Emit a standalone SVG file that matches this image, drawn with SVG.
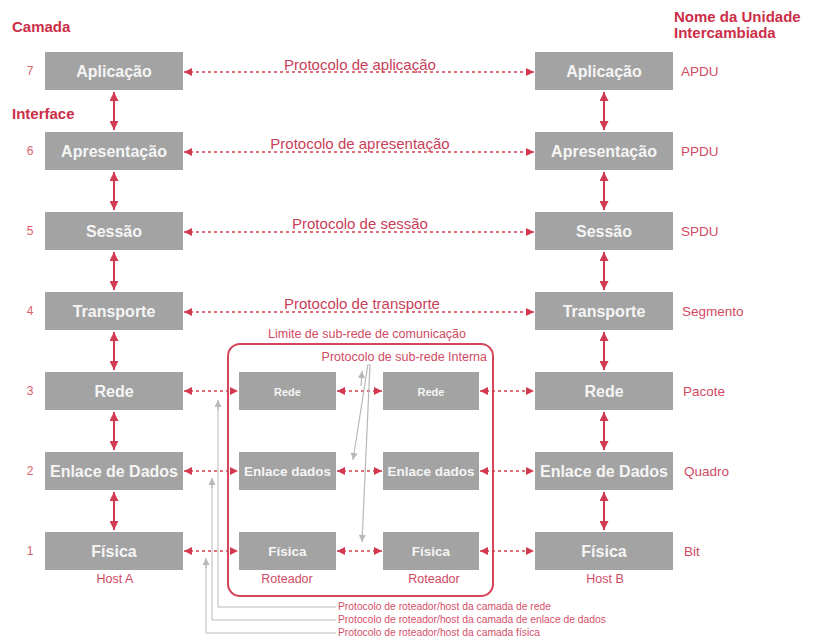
<svg xmlns="http://www.w3.org/2000/svg" width="813" height="640" viewBox="0 0 813 640">
<style>
text{font-family:"Liberation Sans",Arial,sans-serif}
.box{fill:#a3a3a3}
.bl{fill:#f5f5f5;font-weight:bold;font-size:16px;text-anchor:middle}
.bs{fill:#f5f5f5;font-weight:bold;font-size:13.5px;text-anchor:middle}
.hd{fill:#cc2e48;font-weight:bold;font-size:15px}
.num{fill:#d9606f;font-size:12px;text-anchor:middle}
.unit{fill:#d04a63;font-size:13.5px}
.proto{fill:#c9405a;font-size:15px;text-anchor:middle}
.small{fill:#d04a63;font-size:12.5px}
.tiny{fill:#d4506a;font-size:10.3px}
.vs{stroke:#d23a52;stroke-width:2;fill:none;marker-start:url(#ah);marker-end:url(#ah)}
.dot{stroke:#d8404f;stroke-width:1.5;stroke-dasharray:3 3;fill:none;marker-start:url(#ahs);marker-end:url(#ahs)}
.gr{stroke:#b8b8b8;stroke-width:1;fill:none}
.gra{stroke:#b8b8b8;stroke-width:1.2;fill:none;marker-end:url(#ag)}
</style>
<defs>
<marker id="ah" viewBox="0 0 10 10" refX="10" refY="5" markerWidth="9" markerHeight="9" markerUnits="userSpaceOnUse" orient="auto-start-reverse"><path d="M0,0 L10,5 L0,10 z" fill="#d23a52"/></marker>
<marker id="ahs" viewBox="0 0 10 10" refX="10" refY="5" markerWidth="10" markerHeight="8" markerUnits="userSpaceOnUse" orient="auto-start-reverse"><path d="M0,0 L10,5 L0,10 z" fill="#d23a52"/></marker>
<marker id="ag" viewBox="0 0 10 10" refX="10" refY="5" markerWidth="9" markerHeight="7" markerUnits="userSpaceOnUse" orient="auto"><path d="M0,0 L10,5 L0,10 z" fill="#b8b8b8"/></marker>
</defs>
<rect width="813" height="640" fill="#ffffff"/>

<g id="headers">
<text class="hd" x="12" y="32">Camada</text>
<text class="hd" x="12" y="119">Interface</text>
<text class="hd" x="674" y="22">Nome da Unidade</text>
<text class="hd" x="674" y="38">Intercambiada</text>
</g>

<g id="layer-numbers">
<text class="num" x="30" y="75">7</text>
<text class="num" x="30" y="155">6</text>
<text class="num" x="30" y="235">5</text>
<text class="num" x="30" y="315">4</text>
<text class="num" x="30" y="395">3</text>
<text class="num" x="30" y="475">2</text>
<text class="num" x="30" y="555">1</text>
</g>

<g id="units">
<text class="unit" x="681" y="76">APDU</text>
<text class="unit" x="681" y="156">PPDU</text>
<text class="unit" x="681" y="236">SPDU</text>
<text class="unit" x="682" y="316">Segmento</text>
<text class="unit" x="683" y="396">Pacote</text>
<text class="unit" x="684" y="476">Quadro</text>
<text class="unit" x="684" y="556">Bit</text>
</g>

<g id="subnet">
<rect x="228" y="344" width="265" height="252" rx="12" fill="none" stroke="#d6455b" stroke-width="2"/>
<text class="small" x="367" y="338" text-anchor="middle">Limite de sub-rede de comunicação</text>
<text class="small" x="487" y="361" text-anchor="end">Protocolo de sub-rede Interna</text>
</g>

<g id="hostA-7"><rect class="box" x="45" y="52" width="138" height="38"/><text class="bl" x="114" y="77">Aplicação</text></g>
<g id="hostA-6"><rect class="box" x="45" y="132" width="138" height="38"/><text class="bl" x="114" y="157">Apresentação</text></g>
<g id="hostA-5"><rect class="box" x="45" y="212" width="138" height="38"/><text class="bl" x="114" y="237">Sessão</text></g>
<g id="hostA-4"><rect class="box" x="45" y="292" width="138" height="38"/><text class="bl" x="114" y="317">Transporte</text></g>
<g id="hostA-3"><rect class="box" x="45" y="372" width="138" height="38"/><text class="bl" x="114" y="397">Rede</text></g>
<g id="hostA-2"><rect class="box" x="45" y="452" width="138" height="38"/><text class="bl" x="114" y="477">Enlace de Dados</text></g>
<g id="hostA-1"><rect class="box" x="45" y="532" width="138" height="38"/><text class="bl" x="114" y="557">Física</text></g>
<text class="small" x="115" y="583" text-anchor="middle">Host A</text>

<g id="hostB-7"><rect class="box" x="535" y="52" width="138" height="38"/><text class="bl" x="604" y="77">Aplicação</text></g>
<g id="hostB-6"><rect class="box" x="535" y="132" width="138" height="38"/><text class="bl" x="604" y="157">Apresentação</text></g>
<g id="hostB-5"><rect class="box" x="535" y="212" width="138" height="38"/><text class="bl" x="604" y="237">Sessão</text></g>
<g id="hostB-4"><rect class="box" x="535" y="292" width="138" height="38"/><text class="bl" x="604" y="317">Transporte</text></g>
<g id="hostB-3"><rect class="box" x="535" y="372" width="138" height="38"/><text class="bl" x="604" y="397">Rede</text></g>
<g id="hostB-2"><rect class="box" x="535" y="452" width="138" height="38"/><text class="bl" x="604" y="477">Enlace de Dados</text></g>
<g id="hostB-1"><rect class="box" x="535" y="532" width="138" height="38"/><text class="bl" x="604" y="557">Física</text></g>
<text class="small" x="605" y="583" text-anchor="middle">Host B</text>

<g id="router1-3"><rect class="box" x="239" y="372" width="97" height="38"/><text class="bs" x="287.5" y="396" style="font-size:11px">Rede</text></g>
<g id="router1-2"><rect class="box" x="239" y="452" width="97" height="38"/><text class="bs" x="287.5" y="476">Enlace dados</text></g>
<g id="router1-1"><rect class="box" x="239" y="532" width="97" height="38"/><text class="bs" x="287.5" y="556">Física</text></g>
<text class="small" x="287" y="583" text-anchor="middle">Roteador</text>

<g id="router2-3"><rect class="box" x="383" y="372" width="96" height="38"/><text class="bs" x="431" y="396" style="font-size:11px">Rede</text></g>
<g id="router2-2"><rect class="box" x="383" y="452" width="96" height="38"/><text class="bs" x="431" y="476">Enlace dados</text></g>
<g id="router2-1"><rect class="box" x="383" y="532" width="96" height="38"/><text class="bs" x="431" y="556">Física</text></g>
<text class="small" x="434" y="583" text-anchor="middle">Roteador</text>

<g id="connectors">
<line class="vs" x1="114" y1="92" x2="114" y2="130"/>
<line class="vs" x1="114" y1="172" x2="114" y2="210"/>
<line class="vs" x1="114" y1="252" x2="114" y2="290"/>
<line class="vs" x1="114" y1="332" x2="114" y2="370"/>
<line class="vs" x1="114" y1="412" x2="114" y2="450"/>
<line class="vs" x1="114" y1="492" x2="114" y2="530"/>
<line class="vs" x1="604" y1="92" x2="604" y2="130"/>
<line class="vs" x1="604" y1="172" x2="604" y2="210"/>
<line class="vs" x1="604" y1="252" x2="604" y2="290"/>
<line class="vs" x1="604" y1="332" x2="604" y2="370"/>
<line class="vs" x1="604" y1="412" x2="604" y2="450"/>
<line class="vs" x1="604" y1="492" x2="604" y2="530"/>

<line class="dot" x1="184" y1="72" x2="534" y2="72"/>
<line class="dot" x1="184" y1="152" x2="534" y2="152"/>
<line class="dot" x1="184" y1="232" x2="534" y2="232"/>
<line class="dot" x1="184" y1="312" x2="534" y2="312"/>

<line class="dot" x1="184" y1="391" x2="238" y2="391"/>
<line class="dot" x1="337" y1="391" x2="382" y2="391"/>
<line class="dot" x1="480" y1="391" x2="534" y2="391"/>
<line class="dot" x1="184" y1="471" x2="238" y2="471"/>
<line class="dot" x1="337" y1="471" x2="382" y2="471"/>
<line class="dot" x1="480" y1="471" x2="534" y2="471"/>
<line class="dot" x1="184" y1="551" x2="238" y2="551"/>
<line class="dot" x1="337" y1="551" x2="382" y2="551"/>
<line class="dot" x1="480" y1="551" x2="534" y2="551"/>

<line class="gra" x1="368" y1="364" x2="353" y2="460"/>
<line class="gra" x1="370" y1="364" x2="362" y2="542"/>
<line class="gra" x1="361" y1="386" x2="362" y2="371"/>

<polyline class="gr" points="218,404 218,607 336,607"/>
<polyline class="gr" points="212,482 212,620 336,620"/>
<polyline class="gr" points="206,562 206,633 336,633"/>
<line class="gra" x1="218" y1="410" x2="218" y2="400"/>
<line class="gra" x1="212" y1="488" x2="212" y2="478"/>
<line class="gra" x1="206" y1="568" x2="206" y2="558"/>
</g>

<g id="protocol-labels">
<text class="proto" x="360" y="70">Protocolo de aplicação</text>
<text class="proto" x="360" y="149">Protocolo de apresentação</text>
<text class="proto" x="360" y="229">Protocolo de sessão</text>
<text class="proto" x="362" y="309">Protocolo de transporte</text>
<text class="tiny" x="338" y="610">Protocolo de roteador/host da camada de rede</text>
<text class="tiny" x="338" y="623">Protocolo de roteador/host da camada de enlace de dados</text>
<text class="tiny" x="338" y="636">Protocolo de roteador/host da camada física</text>
</g>
</svg>
